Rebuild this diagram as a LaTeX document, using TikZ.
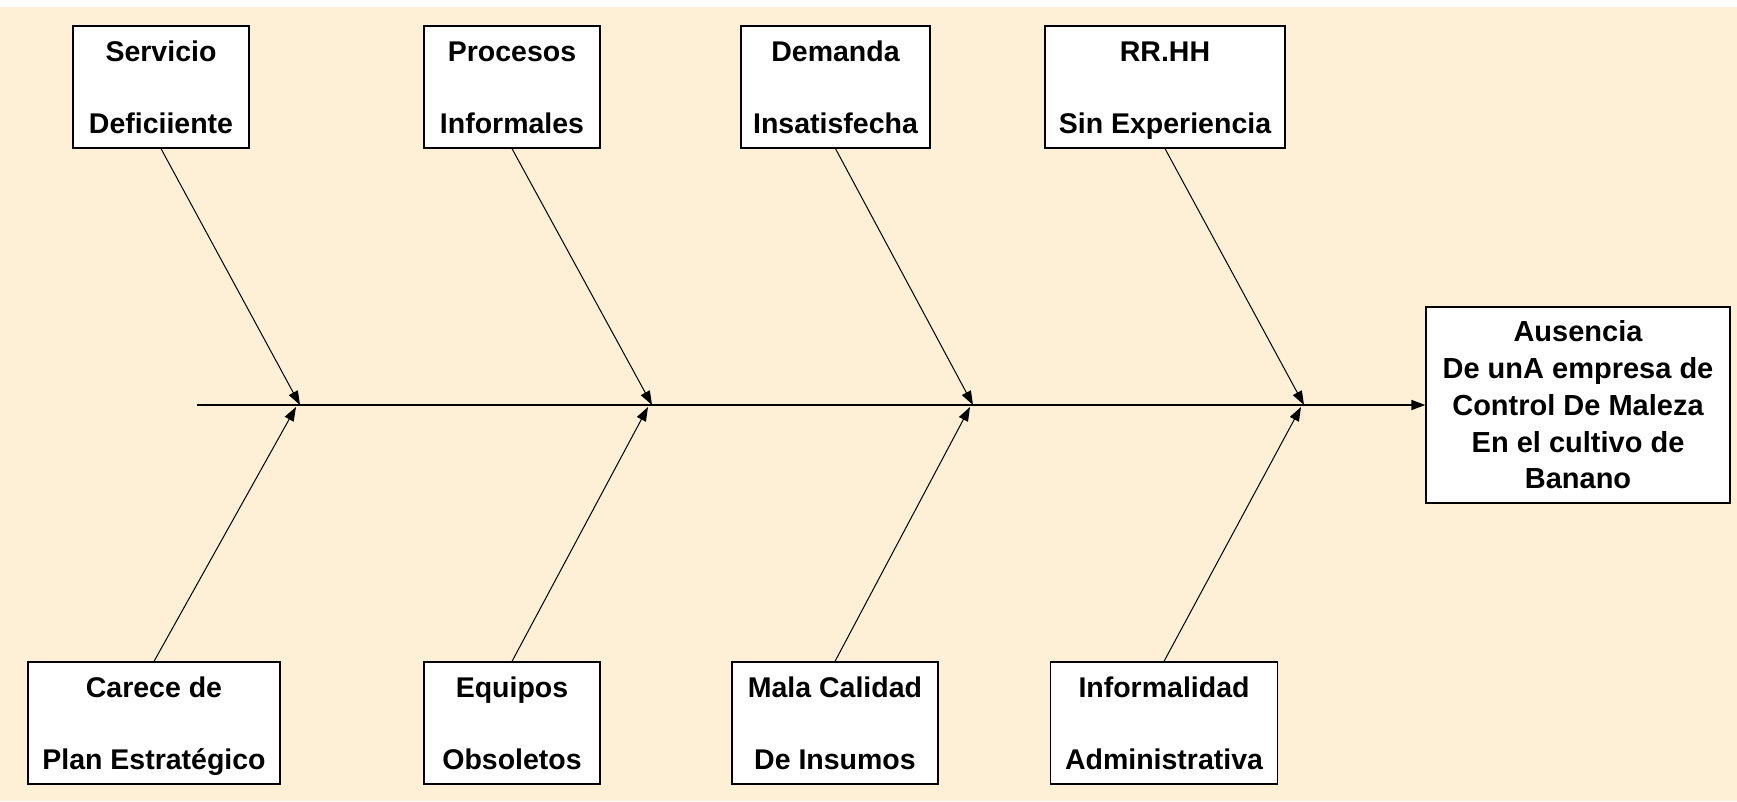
\documentclass[tikz,border=0pt]{standalone}
\usepackage{fontspec}
\setmainfont{Liberation Sans}
\usetikzlibrary{arrows.meta}
\definecolor{parch}{HTML}{FDF0D6}
\newcommand{\twolines}[2]{\rule{0pt}{21pt}\smash{#1}\\[36pt]\rule[-1pt]{0pt}{1pt}\smash{#2}}
\tikzset{
  box/.style={draw=black, line width=1.3pt, fill=white, align=center, inner sep=0pt,
    font=\bfseries\fontsize{28.5}{36}\selectfont},
  bigbox/.style={box, font=\bfseries\fontsize{29}{36.75}\selectfont},
  bone/.style={line width=1pt, -{Triangle[length=14pt,width=10pt]}},
  spine/.style={line width=1.6pt, -{Triangle[length=14pt,width=10pt]}}
}
\begin{document}
\begin{tikzpicture}[x=1pt,y=-1pt]
\useasboundingbox (0,0) rectangle (1737,801);
\fill[white] (0,0) rectangle (1737,801);
\fill[parch] (0,7) rectangle (1737,801);
% top causes
\node[box, minimum width=176pt, minimum height=122pt] (serv) at (161,87) {\twolines{Servicio}{Deficiiente}};
\node[box, minimum width=176pt, minimum height=122pt] (proc) at (512,87) {\twolines{Procesos}{Informales}};
\node[box, minimum width=189pt, minimum height=122pt] (dem) at (835.5,87) {\twolines{Demanda}{Insatisfecha}};
\node[box, minimum width=240pt, minimum height=122pt] (rrhh) at (1165,87) {\twolines{RR.HH}{Sin Experiencia}};
% bottom causes
\node[box, minimum width=252pt, minimum height=122pt] (car) at (154,723) {\twolines{Carece de}{Plan Estratégico}};
\node[box, minimum width=176pt, minimum height=122pt] (equ) at (512,723) {\twolines{Equipos}{Obsoletos}};
\node[box, minimum width=206pt, minimum height=122pt] (mala) at (835,723) {\twolines{Mala Calidad}{De Insumos}};
\node[box, minimum width=227pt, minimum height=122pt] (inf) at (1164,723) {\twolines{Informalidad}{Administrativa}};
% effect
\node[bigbox, minimum width=304pt, minimum height=196pt] (aus) at (1578,405) {Ausencia\\De unA empresa de\\Control De Maleza\\En el cultivo de\\Banano};
% spine
\coordinate (s0) at (197,405);
\coordinate (t1) at (300,405);
\coordinate (t2) at (652,405);
\coordinate (t3) at (973,405);
\coordinate (t4) at (1304,405);
\coordinate (b1) at (296,407);
\coordinate (b2) at (648,407);
\coordinate (b3) at (970,407);
\coordinate (b4) at (1301,407);
\draw[spine] (s0) -- (aus.west);
\draw[bone] (serv.south) -- (t1);
\draw[bone] (proc.south) -- (t2);
\draw[bone] (dem.south) -- (t3);
\draw[bone] (rrhh.south) -- (t4);
\draw[bone] (car.north) -- (b1);
\draw[bone] (equ.north) -- (b2);
\draw[bone] (mala.north) -- (b3);
\draw[bone] (inf.north) -- (b4);
\end{tikzpicture}
\end{document}
